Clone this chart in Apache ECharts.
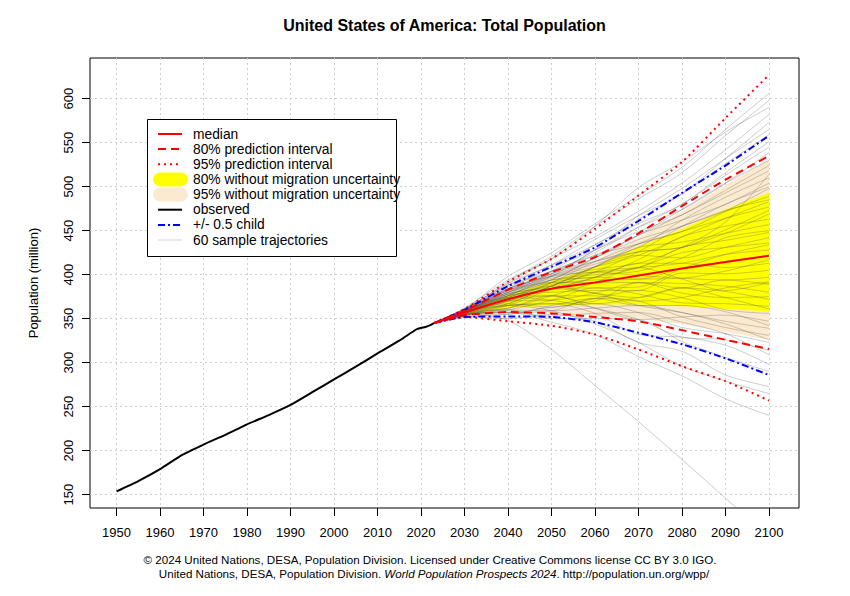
<!DOCTYPE html>
<html><head><meta charset="utf-8">
<script src="https://cdn.jsdelivr.net/npm/echarts@6/dist/echarts.min.js"></script>
<style>html,body{margin:0;padding:0;background:#fff}#c{width:850px;height:596px}</style>
</head><body><div id="c"></div>
<script>
// ---------------- data ----------------
const titleText = 'United States of America: Total Population';
const yAxisTitle = 'Population (million)';
const xTicks = [1950,1960,1970,1980,1990,2000,2010,2020,2030,2040,2050,2060,2070,2080,2090,2100];
const yTicks = [150,200,250,300,350,400,450,500,550,600];

const obsYears  = [1950,1955,1960,1965,1970,1975,1980,1985,1990,1995,2000,2005,2010,2015,2019,2020,2021,2022,2023];
const obsValues = [153.8,165.5,179,195,207,218,230,240.5,252,266.5,281,295.5,310.5,325,338,339.5,340.5,342.5,345];

const projYears = [2023,2030,2040,2050,2060,2070,2080,2090,2100];
const median        = [345,357,372,384,391,399,407,414.5,421.6];
const pi80Upper     = [345,359,383,403,420,447,478,508,535];
const pi80Lower     = [345,354,357.5,356,352,347,337,326,315.5];
const pi95Upper     = [345,361,392,418,452,490,528,578,627];
const pi95Lower     = [345,352,347,342,332,315,296,279,257];
const childUpper    = [345,360,387,409,431,461,493,524,558];
const childLower    = [345,352,352.5,352,346,334,321,305,286];
const noMig80Upper  = [345,358,377,393,409,432,452,474,493];
const noMig80Lower  = [345,353,362,365,366,366,364,361,358];
const noMig95Upper  = [345,358.5,381,400,416,442,472,502,531];
const noMig95Lower  = [345,352.5,358,356,353,350,344,335,326];

const trajectories = [
  [345,355,348,315,274,233,190,146,102],
  [345,355,357,346,332,307,285,259,240],
  [345,358,365,359,344,323,296,279,265],
  [345,353,350,355,347,323,313,286,273],
  [345,356,360,350,350,349,324,306,290],
  [345,354,365,367,356,332,329,320,298],
  [345,359,374,371,362,349,329,326,314],
  [345,352,355,363,367,357,340,333,323],
  [345,356,357,359,373,370,352,340,331],
  [345,359,378,384,379,365,357,347,339],
  [345,355,362,376,362,349,352,354,347],
  [345,357,367,363,373,382,374,360,356],
  [345,354,360,371,385,378,368,367,364],
  [345,358,372,387,379,374,385,381,372],
  [345,357,365,367,370,391,390,387,380],
  [345,360,382,391,391,391,385,394,389],
  [345,355,370,387,403,399,396,394,397],
  [345,357,376,380,382,382,402,401,405],
  [345,356,372,384,397,413,413,408,413],
  [345,359,378,391,397,395,407,415,422],
  [345,354,365,384,403,408,413,423,428],
  [345,358,380,394,397,408,425,431,436],
  [345,357,370,387,409,422,419,431,442],
  [345,360,380,398,403,408,431,439,448],
  [345,356,374,391,409,431,437,447,457],
  [345,359,376,384,397,417,443,455,463],
  [345,357,378,401,415,426,431,447,469],
  [345,358,372,391,415,435,449,464,477],
  [345,361,384,398,409,422,443,464,483],
  [345,355,367,387,409,435,455,472,489],
  [345,358,382,404,422,435,449,472,498],
  [345,359,380,394,419,445,462,480,504],
  [345,357,376,399,415,431,462,488,510],
  [345,359,386,403,422,445,468,493,518],
  [345,356,376,398,428,449,468,496,524],
  [345,360,382,401,419,445,474,504,530],
  [345,358,384,408,428,454,474,504,539],
  [345,361,388,404,425,454,480,513,545],
  [345,357,380,404,434,458,480,516,551],
  [345,359,388,411,434,463,492,526,559],
  [345,359,384,401,428,467,498,532,565],
  [345,361,390,411,440,467,492,532,573],
  [345,359,390,418,443,472,504,542,582],
  [345,362,394,418,455,499,528,562,590],
  [345,360,392,421,455,486,516,558,598],
  [345,361,398,425,458,490,522,565,606],
  [345,357,362,376,391,408,395,382,391],
  [345,358,374,376,367,374,385,374,361],
  [345,353,360,359,362,365,357,344,326],
  [345,359,376,394,400,404,419,442,450],
  [345,356,367,384,385,386,407,423,434],
  [345,357,370,371,379,391,379,374,375],
  [345,359,384,399,412,426,431,451,473],
  [345,355,355,365,373,365,365,358,342],
  [345,358,378,387,403,426,455,480,500],
  [345,356,370,376,376,370,374,385,392],
  [345,359,374,389,394,395,396,404,417],
  [345,355,357,353,356,357,346,333,309],
  [345,358,382,396,406,413,431,460,514],
  [345,357,374,394,419,440,455,473,485]
];

const legendLabels = ['median','80% prediction interval','95% prediction interval',
  '80% without migration uncertainty','95% without migration uncertainty',
  'observed','+/- 0.5 child','60 sample trajectories'];
const footerLine1 = '\u00a9 2024 United Nations, DESA, Population Division. Licensed under Creative Commons license CC BY 3.0 IGO.';
const footerLine2a = 'United Nations, DESA, Population Division. ';
const footerLine2b = 'World Population Prospects 2024';
const footerLine2c = '. http://population.un.org/wpp/';

// ---------------- chart ----------------
const FONT = '"Liberation Sans", Arial, Helvetica, sans-serif';
const RED = '#FF0000', BLUE = '#0000FF', YELLOW = '#FFFF00', BEIGE = '#FBEAD0';
const DASH = [8,5], DOT = [2,4], DASHDOT = [7,3,2,3];

function pairs(xs, ys){ return xs.map((x,i)=>[x, ys[i]]); }

function band(lower, upper, color){
  return {
    type:'custom', silent:true, clip:true, z:1,
    data:[[projYears[0], lower[0]]],
    renderItem:function(params, api){
      const pts=[];
      for(let i=0;i<projYears.length;i++) pts.push(api.coord([projYears[i], upper[i]]));
      for(let i=projYears.length-1;i>=0;i--) pts.push(api.coord([projYears[i], lower[i]]));
      return {type:'polygon', shape:{points:pts}, style:{fill:color, stroke:null}};
    }
  };
}
function line(xs, ys, color, type, width, smooth){
  return {type:'line', data:pairs(xs,ys), symbol:'none', silent:true, smooth:smooth||0,
    lineStyle:{color:color, width:width, type:type}, z:3};
}

const series = [];
series.push(band(noMig95Lower, noMig95Upper, BEIGE));
series.push(band(noMig80Lower, noMig80Upper, YELLOW));
trajectories.forEach(t=>series.push({type:'line', data:pairs(projYears,t), symbol:'none', silent:true,
  smooth:0.3, lineStyle:{color:'rgba(90,90,90,0.3)', width:1}, z:2}));
series.push(line(projYears, pi95Upper, RED, DOT, 2, 0.2));
series.push(line(projYears, pi95Lower, RED, DOT, 2, 0.2));
series.push(line(projYears, childUpper, BLUE, DASHDOT, 2, 0.2));
series.push(line(projYears, childLower, BLUE, DASHDOT, 2, 0.2));
series.push(line(projYears, pi80Upper, RED, DASH, 2, 0.2));
series.push(line(projYears, pi80Lower, RED, DASH, 2, 0.2));
series.push(line(projYears, median, RED, 'solid', 2, 0.2));
series.push(line(obsYears, obsValues, '#000', 'solid', 2, 0.2));

// legend graphic
const LX = 147, LY = 119, LW = 249, LH = 137;
const rowY = [134,149.1,164.3,179.4,194.6,209.7,224.9,240];
const legendSym = [
  {kind:'line', color:RED, dash:'solid', w:2},
  {kind:'line', color:RED, dash:DASH, w:2},
  {kind:'line', color:RED, dash:DOT, w:2},
  {kind:'fill', color:YELLOW},
  {kind:'fill', color:BEIGE},
  {kind:'line', color:'#000', dash:'solid', w:2},
  {kind:'line', color:BLUE, dash:DASHDOT, w:2},
  {kind:'line', color:'#d3d3d3', dash:'solid', w:1}
];
const graphics = [
  {type:'rect', left:LX, top:LY, shape:{x:0,y:0,width:LW,height:LH}, style:{fill:'#fff', stroke:'#000', lineWidth:1}, z:10}
];
legendSym.forEach((s,i)=>{
  const y = rowY[i];
  if(s.kind==='line'){
    graphics.push({type:'line', shape:{x1:158,y1:y,x2:182,y2:y}, style:{stroke:s.color, lineWidth:s.w, lineDash:s.dash==='solid'?null:s.dash}, z:11});
  } else {
    graphics.push({type:'rect', shape:{x:153,y:y-7,width:35,height:14,r:7}, style:{fill:s.color}, z:11});
  }
  graphics.push({type:'text', x:193, y:y, style:{text:legendLabels[i], font:'13.8px '+FONT, fill:'#000', verticalAlign:'middle', textAlign:'left'}, z:12});
});
graphics.push({type:'text', x:444.5, y:25.5, style:{text:titleText, font:'bold 16px '+FONT, fill:'#000', textAlign:'center', verticalAlign:'middle'}});
graphics.push({type:'text', x:430, y:559, style:{text:footerLine1, font:'11.6px '+FONT, fill:'#000', textAlign:'center', verticalAlign:'middle'}});
graphics.push({type:'text', x:434, y:573, style:{
  text:'{n|'+footerLine2a+'}{i|'+footerLine2b+'}{n|'+footerLine2c+'}',
  textAlign:'center', verticalAlign:'middle',
  rich:{n:{fontSize:11.6, fontFamily:FONT, fill:'#000'}, i:{fontSize:11.6, fontFamily:FONT, fontStyle:'italic', fill:'#000'}}
}});

const axisFont = {fontSize:13, fontFamily:FONT, color:'#000'};
const option = {
  animation:false,
  backgroundColor:'#fff',
  grid:{left:90, right:51, top:58, bottom:88, show:true, borderColor:'#000', borderWidth:1, backgroundColor:'transparent'},
  xAxis:{type:'value', min:1943.9, max:2106.9,
    axisLine:{show:false},
    axisTick:{show:true, length:8, lineStyle:{color:'#000'}, customValues:xTicks},
    axisLabel:Object.assign({customValues:xTicks, margin:18, formatter:v=>String(v)}, axisFont),
    splitLine:{show:true, lineStyle:{color:'#cfcfcf', type:[2,3], width:1}}
  },
  yAxis:{type:'value', min:134.9, max:646.2,
    name:yAxisTitle, nameLocation:'middle', nameGap:50.5, nameRotate:90,
    nameTextStyle:{fontSize:13, fontFamily:FONT, color:'#000'},
    axisLine:{show:false},
    axisTick:{show:true, length:8, lineStyle:{color:'#000'}, customValues:yTicks},
    axisLabel:Object.assign({customValues:yTicks, margin:15.5, rotate:90, formatter:v=>String(v)}, axisFont),
    splitLine:{show:true, lineStyle:{color:'#cfcfcf', type:[2,3], width:1}}
  },
  graphic:graphics,
  series:series
};
const chart = echarts.init(document.getElementById('c'), null, {renderer:'svg'});
chart.setOption(option);
</script></body></html>
